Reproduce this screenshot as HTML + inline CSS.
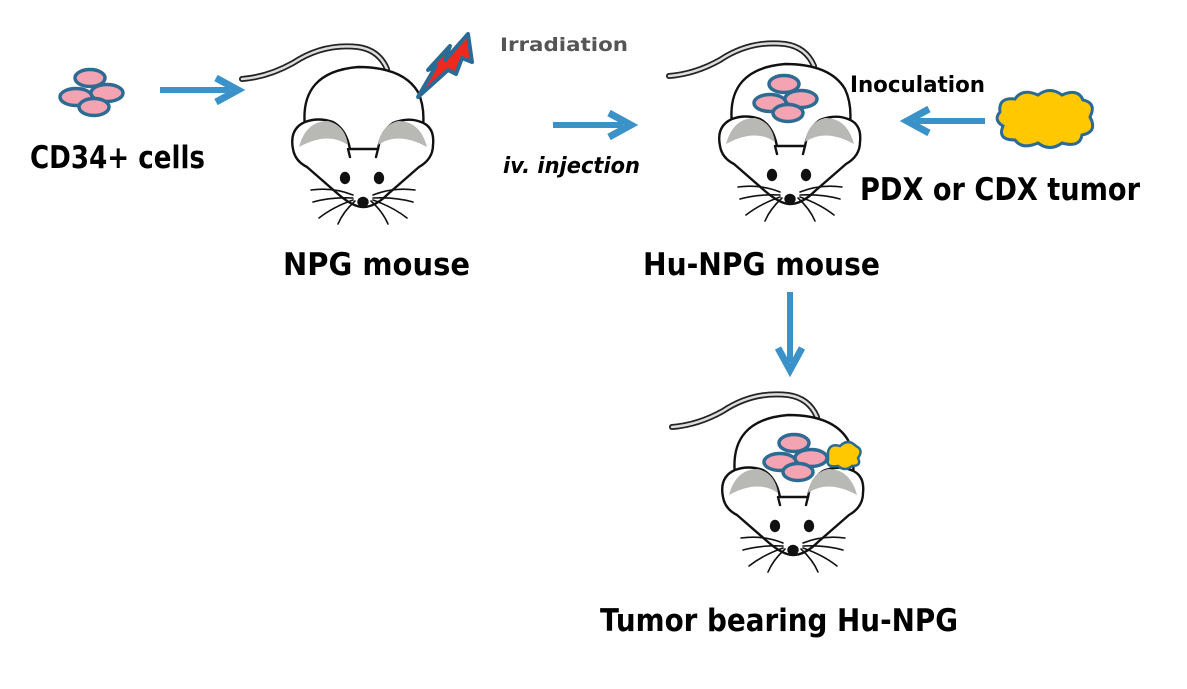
<!DOCTYPE html>
<html><head><meta charset="utf-8"><style>
body{margin:0;background:#fff;}
svg{display:block}
text{font-family:"DejaVu Sans","Liberation Sans",Arial,sans-serif;font-weight:bold;fill:#000}
</style></head><body>
<svg width="1187" height="689" viewBox="0 0 1187 689" xmlns="http://www.w3.org/2000/svg">
<defs>
<g id="mouse" fill="none" stroke="#111" stroke-width="2.4" stroke-linecap="round" stroke-linejoin="round">
  <path d="M-121,12 Q-95,10 -70,-4 Q-40,-24 -5,-20 Q16,-17 24,2" stroke-width="6" stroke="#222"/>
  <path d="M-121,12 Q-95,10 -70,-4 Q-40,-24 -5,-20 Q16,-17 24,2" stroke-width="2.5" stroke="#ddd"/>
  <path d="M-58,60 Q-64,5 -5,0 Q40,0 55,25 Q62,40 60,60" fill="#fff"/>
  <path d="M-58,55 Q-74,62 -70,82 Q-68,94 -56,100 Q-40,114 -25,127 Q-10,140 0,140 Q12,140 25,127 Q40,114 56,100 Q70,92 70,78 Q72,60 58,55 Q45,50 30,56 Q18,64 15,82 L-13,82 Q-17,62 -30,55 Q-45,50 -58,55 Z" fill="#fff"/>
  <path d="M-64,80 Q-57,54 -35,54 Q-18,58 -15,78 Q-35,64 -64,80 Z" fill="#b8b8b4" stroke="none"/>
  <path d="M64,80 Q57,54 35,54 Q18,58 15,78 Q35,64 64,80 Z" fill="#b8b8b4" stroke="none"/>
  <path d="M-15,82 L-13,90" /><path d="M15,82 L13,90"/>
  <ellipse cx="-18" cy="111" rx="4" ry="5" fill="#111"/>
  <ellipse cx="16" cy="111" rx="4" ry="5" fill="#111"/>
  <ellipse cx="0" cy="135" rx="4.5" ry="4" fill="#111"/>
  <path d="M-10,128 Q-30,120 -52,123 M-10,131 Q-32,130 -50,135 M-10,133 Q-30,140 -44,151 M-8,134 Q-20,145 -25,157" stroke-width="1.6"/>
  <path d="M10,128 Q30,120 52,123 M10,131 Q32,130 50,135 M10,133 Q30,140 44,151 M8,134 Q20,145 25,157" stroke-width="1.6"/>
</g>
<g id="cells" stroke="#2d6b92" stroke-width="3.5" fill="#f3a3b2">
  <ellipse cx="12" cy="-12" rx="15" ry="8.5"/>
  <ellipse cx="-2" cy="7" rx="16" ry="8.5"/>
  <ellipse cx="29" cy="3" rx="16" ry="8.5"/>
  <ellipse cx="16" cy="17" rx="15" ry="8.5"/>
</g>
<g id="arrowR">
  <rect x="0" y="-3" width="70" height="6" fill="#3a92c8"/>
  <path d="M56,-12 L78,0 L56,12" fill="none" stroke="#3a92c8" stroke-width="7" stroke-linejoin="miter"/>
</g>
</defs>

<use href="#cells" x="78" y="90"/>
<text x="30" y="168" font-size="31" textLength="175" lengthAdjust="spacingAndGlyphs">CD34+ cells</text>
<use href="#arrowR" x="160" y="90"/>

<use href="#mouse" x="363" y="67"/>
<path d="M418,97 L436,66 L428,70 L450,46 L445,60 L468,34 L472,62 L462,58 L456,74 L448,70 Z" fill="#ee2a1e" stroke="#2c6a96" stroke-width="4" stroke-linejoin="round"/>
<text x="500" y="51" font-size="19" style="fill:#555" textLength="128" lengthAdjust="spacingAndGlyphs">Irradiation</text>
<text x="283" y="275" font-size="31" textLength="187" lengthAdjust="spacingAndGlyphs">NPG mouse</text>

<use href="#arrowR" x="553" y="125"/>
<text x="503" y="173" font-size="22" font-style="italic" textLength="137" lengthAdjust="spacingAndGlyphs">iv. injection</text>

<use href="#mouse" x="790" y="64"/>
<use href="#cells" x="772" y="96"/>
<text x="643" y="275" font-size="31" textLength="237" lengthAdjust="spacingAndGlyphs">Hu-NPG mouse</text>
<text x="850" y="92" font-size="22" textLength="135" lengthAdjust="spacingAndGlyphs">Inoculation</text>
<g transform="translate(985,121) scale(-1,1)"><use href="#arrowR" x="0" y="0"/></g>
<path d="M1000,112 Q998,97 1015,99 Q1022,88 1038,95 Q1050,86 1062,95 Q1078,88 1083,100 Q1097,103 1090,117 Q1098,132 1082,135 Q1080,148 1062,143 Q1050,152 1038,143 Q1022,150 1015,140 Q997,140 1003,126 Q993,120 1000,112 Z" fill="#ffc800" stroke="#2c6a96" stroke-width="3"/>
<text x="860" y="200" font-size="31" textLength="280" lengthAdjust="spacingAndGlyphs">PDX or CDX tumor</text>

<g transform="translate(790,292) rotate(90)"><use href="#arrowR" x="0" y="0"/></g>

<use href="#mouse" x="793" y="415"/>
<use href="#cells" x="782" y="455"/>
<path d="M828,452 Q830,443 840,446 Q848,438 856,446 Q864,450 858,458 Q862,466 852,466 Q845,472 838,466 Q826,468 828,460 Z" fill="#ffc800" stroke="#2c6a96" stroke-width="2.5"/>
<text x="600" y="631" font-size="31" textLength="358" lengthAdjust="spacingAndGlyphs">Tumor bearing Hu-NPG</text>
</svg>
</body></html>
